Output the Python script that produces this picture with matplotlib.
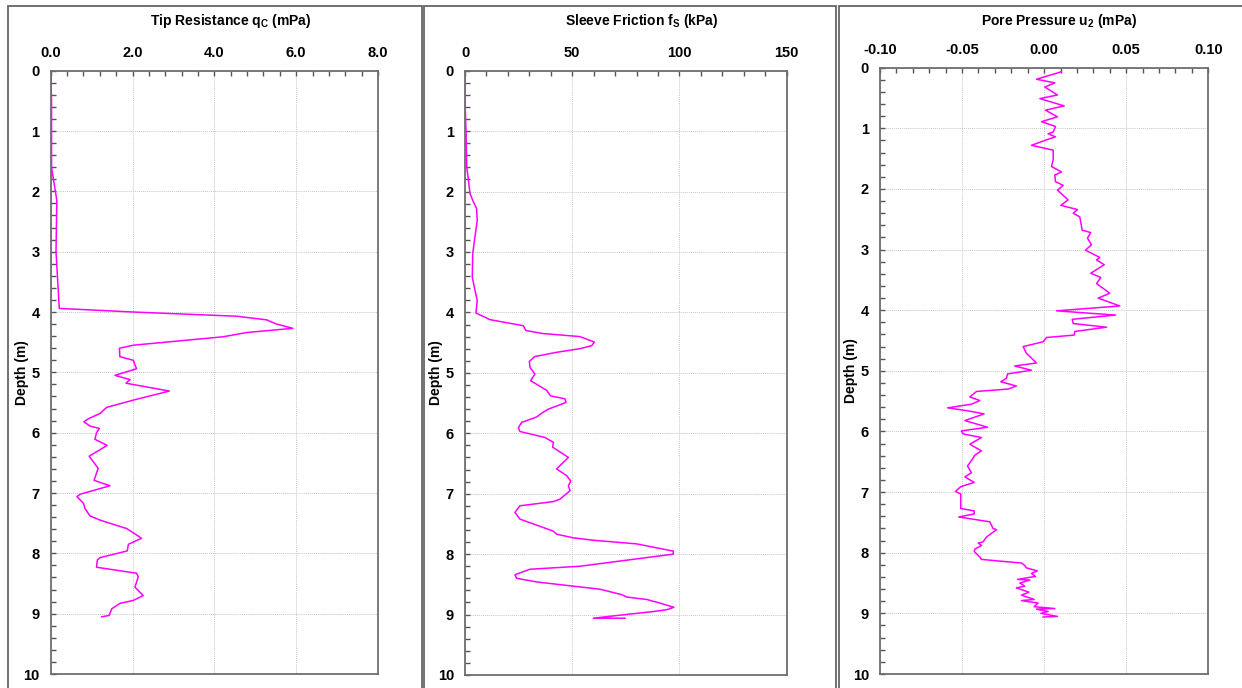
import matplotlib
matplotlib.use("Agg")
import matplotlib.pyplot as plt
from matplotlib.patches import Rectangle
from matplotlib.ticker import MultipleLocator, FormatStrFormatter

# CPT sounding, values
depth_qc = [0.0, 0.5, 1.6, 2.15, 3.0, 3.94, 4.0, 4.07, 4.13, 4.2, 4.27, 4.34,
            4.41, 4.55, 4.6, 4.74, 4.8, 4.88, 4.94, 5.05, 5.12, 5.18, 5.31,
            5.46, 5.58, 5.68, 5.77, 5.82, 5.89, 5.93, 6.0, 6.11, 6.21, 6.39,
            6.59, 6.79, 6.88, 7.02, 7.06, 7.17, 7.26, 7.38, 7.45, 7.59, 7.75,
            7.85, 7.96, 8.07, 8.11, 8.23, 8.33, 8.39, 8.56, 8.7, 8.78, 8.83,
            8.92, 9.03, 9.05]
qc = [0.0, 0.02, 0.02, 0.15, 0.13, 0.21, 2.02, 4.55, 5.28, 5.52, 5.92, 4.79,
      4.22, 2.02, 1.68, 1.69, 2.02, 2.06, 2.1, 1.57, 1.94, 1.84, 2.9, 2.02,
      1.37, 1.21, 0.92, 0.81, 0.96, 1.19, 1.12, 1.08, 1.38, 0.94, 1.16, 1.06,
      1.45, 0.72, 0.64, 0.8, 0.84, 0.96, 1.21, 1.86, 2.22, 1.9, 1.87, 1.21,
      1.14, 1.12, 2.1, 2.14, 2.06, 2.26, 2.02, 1.69, 1.49, 1.43, 1.25]

depth_fs = [0.0, 0.49, 1.04, 1.59, 1.81, 2.03, 2.17, 2.28, 2.48, 2.81, 3.03,
            3.42, 3.64, 3.8, 4.01, 4.12, 4.22, 4.3, 4.35, 4.4, 4.49, 4.55,
            4.6, 4.66, 4.73, 4.81, 4.91, 5.02, 5.13, 5.29, 5.38, 5.43, 5.49,
            5.6, 5.65, 5.73, 5.82, 5.91, 5.97, 6.07, 6.15, 6.23, 6.4, 6.59,
            6.7, 6.79, 6.87, 6.95, 7.09, 7.13, 7.2, 7.31, 7.42, 7.62, 7.67,
            7.73, 7.77, 7.83, 7.95, 8.0, 8.1, 8.2, 8.25, 8.34, 8.4, 8.46,
            8.53, 8.58, 8.67, 8.71, 8.75, 8.81, 8.88, 8.92, 8.95, 9.01, 9.06,
            9.06]
fs = [0.0, 0.0, 0.5, 0.8, 1.6, 2.3, 3.9, 5.4, 5.7, 4.4, 3.6, 3.4, 4.7, 5.7,
      5.1, 11.7, 27.2, 28.4, 36.5, 53.6, 60.3, 59.1, 53.6, 42.7, 32.6, 30.0,
      30.3, 32.6, 30.6, 38.1, 39.9, 46.6, 47.1, 38.9, 36.5, 33.4, 26.4, 24.9,
      25.6, 37.3, 41.2, 40.9, 48.2, 42.7, 47.4, 49.3, 48.2, 49.0, 44.3, 41.2,
      25.6, 23.3, 25.6, 41.2, 42.7, 50.5, 59.8, 80.0, 97.1, 97.1, 75.4, 53.6,
      30.3, 23.3, 24.1, 33.4, 50.5, 62.9, 73.0, 75.4, 84.7, 90.9, 97.4, 94.0,
      87.8, 72.3, 59.8, 74.6]

depth_u2 = [0.07, 0.19, 0.25, 0.32, 0.45, 0.51, 0.63, 0.7, 0.81, 0.89, 0.97,
            1.06, 1.09, 1.14, 1.19, 1.28, 1.36, 1.52, 1.63, 1.72, 1.77, 1.88,
            1.94, 2.02, 2.18, 2.27, 2.34, 2.4, 2.46, 2.68, 2.72, 2.81, 2.92,
            3.01, 3.13, 3.17, 3.25, 3.39, 3.46, 3.56, 3.72, 3.8, 3.93, 4.01,
            4.08, 4.15, 4.22, 4.28, 4.35, 4.41, 4.45, 4.52, 4.6, 4.71, 4.87,
            4.92, 4.99, 5.05, 5.12, 5.18, 5.25, 5.3, 5.34, 5.43, 5.49, 5.55,
            5.61, 5.66, 5.71, 5.82, 5.93, 5.99, 6.04, 6.1, 6.21, 6.32, 6.39,
            6.48, 6.57, 6.68, 6.75, 6.84, 6.91, 6.99, 7.03, 7.27, 7.31, 7.36,
            7.41, 7.49, 7.6, 7.62, 7.74, 7.82, 7.84, 7.88, 7.94, 7.98, 8.07,
            8.11, 8.17, 8.21, 8.25, 8.3, 8.34, 8.39, 8.44, 8.45, 8.5, 8.55,
            8.58, 8.65, 8.7, 8.77, 8.79, 8.83, 8.89, 8.92, 8.93, 8.97, 9.0,
            9.05, 9.06]
u2 = [0.0102, -0.0047, 0.0065, 0.0004, 0.0081, -0.0026, 0.0122, 0.0008,
      0.0081, -0.0016, 0.0069, 0.0055, 0.0024, 0.0069, 0.0014, -0.0077,
      0.0055, 0.0055, 0.0045, 0.0106, 0.0065, 0.0069, 0.0116, 0.0081, 0.0146,
      0.0102, 0.0203, 0.0177, 0.0217, 0.0232, 0.0284, 0.0264, 0.0288, 0.0252,
      0.0339, 0.0319, 0.0366, 0.0284, 0.0345, 0.0319, 0.040, 0.0329, 0.0461,
      0.0075, 0.0435, 0.0171, 0.0177, 0.038, 0.0187, 0.0183, 0.0014, -0.0006,
      -0.0128, -0.0108, -0.0047, -0.0179, -0.0077, -0.0223, -0.0229, -0.0264,
      -0.0169, -0.0219, -0.0412, -0.0453, -0.0392, -0.0443, -0.0588, -0.0463,
      -0.0366, -0.0483, -0.0345, -0.0504, -0.0494, -0.0382, -0.0453, -0.0382,
      -0.0422, -0.0443, -0.0467, -0.0443, -0.0483, -0.0426, -0.0508, -0.054,
      -0.0508, -0.0508, -0.0426, -0.0426, -0.052, -0.0331, -0.0311, -0.029,
      -0.0351, -0.0372, -0.0402, -0.0382, -0.0422, -0.0426, -0.0392, -0.0382,
      -0.0138, -0.0118, -0.0108, -0.0041, -0.0077, -0.0053, -0.0162, -0.0087,
      -0.0148, -0.0118, -0.0169, -0.0093, -0.0138, -0.0061, -0.0138, -0.0037,
      -0.0061, 0.0065, -0.0047, 0.0024, -0.002, 0.0081, -0.0006]

plt.rcParams["font.family"] = ["Liberation Sans", "DejaVu Sans"]
plt.rcParams["font.weight"] = "bold"
plt.rcParams["mathtext.fontset"] = "custom"
plt.rcParams["mathtext.rm"] = "Liberation Sans"
plt.rcParams["mathtext.bf"] = "Liberation Sans:bold"

W, H = 1242, 688
fig = plt.figure(figsize=(W / 100, H / 100), dpi=100)


def px_box(left, right, top, bottom):
    return [left / W, 1 - bottom / H, (right - left) / W, (bottom - top) / H]


# panel frames (pixels: left, right)
for x0, x1 in [(8, 421.7), (424.3, 835.7), (839, 1260)]:
    fig.patches.append(Rectangle((x0 / W, -0.1), (x1 - x0) / W, 1.1 - 6 / H,
                                 transform=fig.transFigure, fill=False,
                                 edgecolor="#666666", linewidth=1.3))

panels = [
    dict(box=(50.7, 378, 70.7, 674), x=qc, y=depth_qc, xlim=(0, 8),
         major=2, minor=0.4, fmt="%.1f", title_x=231,
         title=r"Tip Resistance q$_\mathbf{C}$ (mPa)"),
    dict(box=(465, 786.7, 70.7, 675), x=fs, y=depth_fs, xlim=(0, 150),
         major=50, minor=10, fmt="%d", title_x=642,
         title=r"Sleeve Friction f$_\mathbf{S}$ (kPa)"),
    dict(box=(880, 1208.3, 67.7, 674), x=u2, y=depth_u2, xlim=(-0.1, 0.1),
         major=0.05, minor=0.01, fmt="%.2f", title_x=1059,
         title=r"Pore Pressure u$_\mathbf{2}$ (mPa)"),
]

for p in panels:
    ax = fig.add_axes(px_box(*p["box"]))
    ax.plot(p["x"], p["y"], color="#ff00ff", linewidth=1.1)
    ax.set_xlim(*p["xlim"])
    ax.set_ylim(10, 0)
    ax.xaxis.tick_top()
    ax.xaxis.set_major_locator(MultipleLocator(p["major"]))
    ax.xaxis.set_minor_locator(MultipleLocator(p["minor"]))
    ax.xaxis.set_major_formatter(FormatStrFormatter(p["fmt"]))
    ax.yaxis.set_major_locator(MultipleLocator(1))
    ax.yaxis.set_minor_locator(MultipleLocator(0.2))
    ax.tick_params(which="both", direction="in", length=3.5, width=1,
                   color="#555555", labelsize=10.5, pad=8)
    ax.tick_params(axis="x", which="both", top=True, bottom=False)
    ax.tick_params(axis="y", which="both", left=True, right=False)
    ax.grid(which="major", color="#c8c8c8", linewidth=0.7,
            linestyle=(0, (1, 1)))
    for sp in ax.spines.values():
        sp.set_color("#6e6e6e")
        sp.set_linewidth(1.3)
    ax.set_ylabel("Depth (m)", fontsize=10, fontweight="bold")
    # label centre sits about 29 px left of the axes edge
    ax.yaxis.set_label_coords(-22 / (p["box"][1] - p["box"][0]), 0.5)
    fig.text(p["title_x"] / W, 1 - 21 / H, p["title"], ha="center",
             va="center", fontsize=10, fontweight="bold")

fig.savefig("out.png", dpi=100)
